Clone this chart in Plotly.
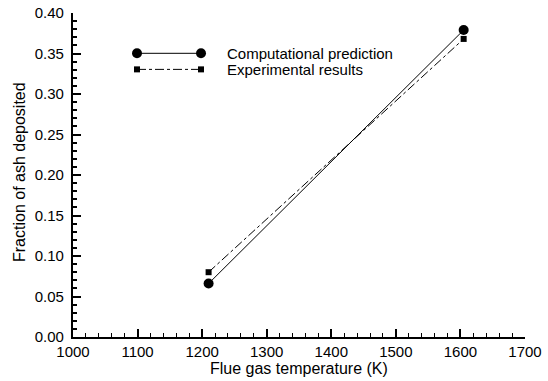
import plotly.graph_objects as go

temps = [1210, 1605]
computational = [0.066, 0.379]
experimental = [0.080, 0.368]
legend_labels = ["Computational prediction", "Experimental results"]
x_title = "Flue gas temperature (K)"
y_title = "Fraction of ash deposited"

FONT = "Liberation Sans, Arial, sans-serif"
fig = go.Figure()

fig.add_trace(go.Scatter(x=temps, y=computational, mode="lines+markers",
                         line=dict(color="black", width=1),
                         marker=dict(symbol="circle", size=10, color="black"),
                         showlegend=False))
fig.add_trace(go.Scatter(x=temps, y=experimental, mode="lines+markers",
                         line=dict(color="black", width=1, dash="dashdot"),
                         marker=dict(symbol="square", size=6, color="black"),
                         showlegend=False))

leg_x = [0.1416, 0.2832]
leg_y = [0.8756, 0.826]
styles = [dict(kind="circle", d=10, dash="solid"), dict(kind="rect", d=6, dash="dashdot")]
for lab, yy, st in zip(legend_labels, leg_y, styles):
    fig.add_shape(type="line", xref="x domain", yref="y domain",
                  x0=leg_x[0], x1=leg_x[1], y0=yy, y1=yy,
                  line=dict(color="black", width=1, dash=st["dash"]))
    h = st["d"] / 2
    for xx in leg_x:
        fig.add_shape(type=st["kind"], xref="x domain", yref="y domain",
                      xsizemode="pixel", ysizemode="pixel", xanchor=xx, yanchor=yy,
                      x0=-h, x1=h, y0=-h, y1=h,
                      fillcolor="black", line=dict(color="black", width=0))
    fig.add_annotation(x=0.336, y=yy, xref="x domain", yref="y domain", text=lab,
                       showarrow=False, xanchor="left", yanchor="middle",
                       font=dict(family=FONT, size=15, color="black"))

fig.add_annotation(x=0.5, y=0, xref="paper", yref="paper", text=x_title, showarrow=False,
                   xanchor="center", yanchor="top", yshift=-21,
                   font=dict(family=FONT, size=16, color="black"))
fig.add_annotation(x=0, y=0.5, xref="paper", yref="paper", text=y_title, showarrow=False,
                   textangle=-90, xanchor="center", yanchor="middle", xshift=-54, yshift=3,
                   font=dict(family=FONT, size=16, color="black"))

fig.update_layout(
    width=548, height=381,
    margin=dict(l=73, r=23, t=13, b=44),
    paper_bgcolor="white", plot_bgcolor="white",
    font=dict(family=FONT, size=15, color="black"),
    xaxis=dict(range=[1000, 1700], dtick=100, ticks="inside", ticklen=8,
               tickcolor="#000000", tickwidth=1.5, showline=True, linecolor="black",
               linewidth=2, showgrid=False, zeroline=False, automargin=False,
               tickfont=dict(size=15),
               minor=dict(dtick=20, ticks="inside", ticklen=4, tickcolor="#000000",
                          tickwidth=1)),
    yaxis=dict(range=[0, 0.40], dtick=0.05, tickformat=".2f", ticks="inside", ticklen=8,
               tickcolor="#000000", tickwidth=2, showline=True, linecolor="black",
               linewidth=2, showgrid=False, zeroline=False, automargin=False,
               tickfont=dict(size=15), ticksuffix="\u00a0", mirror=False,
               minor=dict(dtick=0.01, ticks="inside", ticklen=4, tickcolor="#000000",
                          tickwidth=1.5)),
)

fig.write_html("out.html")
